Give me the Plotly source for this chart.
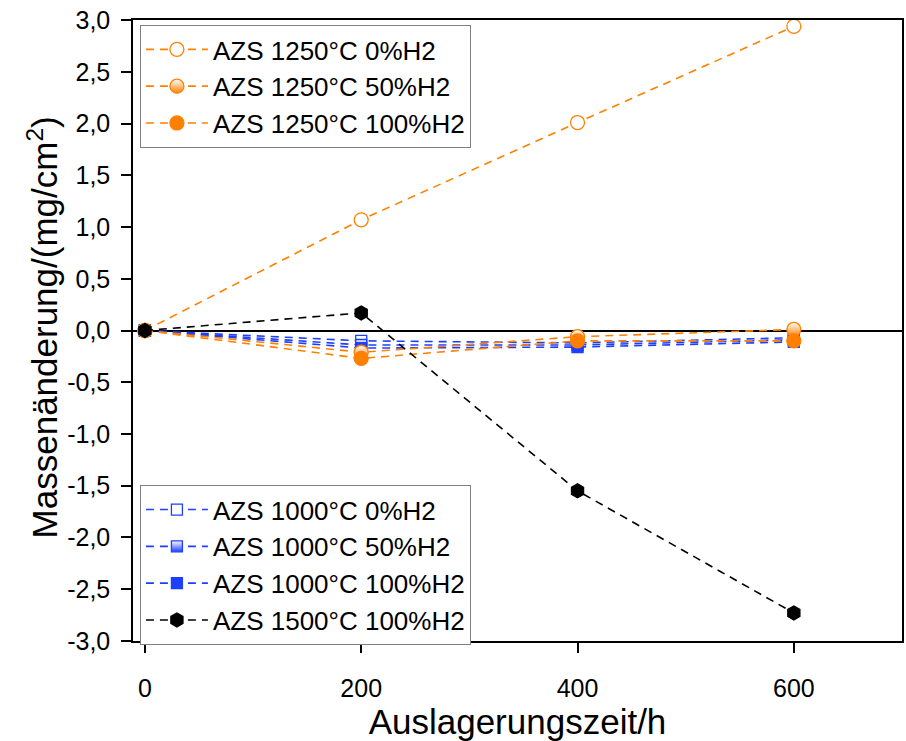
import plotly.graph_objects as go

hours = [0, 200, 400, 600]
azs1250_0 = [0, 1.07, 2.01, 2.94]
azs1250_50 = [0, -0.21, -0.06, 0.01]
azs1250_100 = [0, -0.27, -0.10, -0.10]
azs1000_0 = [0, -0.10, -0.12, -0.07]
azs1000_50 = [0, -0.14, -0.14, -0.09]
azs1000_100 = [0, -0.17, -0.16, -0.11]
azs1500_100 = [0, 0.17, -1.55, -2.73]
y_ticks = [-3.0, -2.5, -2.0, -1.5, -1.0, -0.5, 0.0, 0.5, 1.0, 1.5, 2.0, 2.5, 3.0]
y_tick_labels = ["-3,0", "-2,5", "-2,0", "-1,5", "-1,0", "-0,5", "0,0",
                 "0,5", "1,0", "1,5", "2,0", "2,5", "3,0"]
x_ticks = [0, 200, 400, 600]

ORANGE = "#FF8000"
BLUE = "#1F3FFF"
BLACK = "#000000"

FONT = "Liberation Sans, Arial, sans-serif"

fig = go.Figure()

def add(name, y, color, symbol, size, fill, legend):
    marker = dict(symbol=symbol, size=size, color=color, line=dict(color=color, width=1.3))
    if fill == "open":
        marker["color"] = "white"
    elif fill == "half":
        marker["color"] = "white"
        marker["gradient"] = dict(type="vertical", color=color)
    fig.add_trace(go.Scatter(
        x=hours, y=y, name=name, mode="lines+markers",
        line=dict(color=color, width=1.6, dash="8px,6px"),
        marker=marker, legend=legend,
    ))

add("AZS 1000°C 0%H2", azs1000_0, BLUE, "square", 11, "open", "legend2")
add("AZS 1000°C 50%H2", azs1000_50, BLUE, "square", 11, "half", "legend2")
add("AZS 1000°C 100%H2", azs1000_100, BLUE, "square", 11, "full", "legend2")
add("AZS 1250°C 0%H2", azs1250_0, ORANGE, "circle", 14, "open", "legend")
add("AZS 1250°C 50%H2", azs1250_50, ORANGE, "circle", 14, "half", "legend")
add("AZS 1250°C 100%H2", azs1250_100, ORANGE, "circle", 14, "full", "legend")
add("AZS 1500°C 100%H2", azs1500_100, BLACK, "hexagon", 14, "full", "legend2")

legend_style = dict(
    bgcolor="white", bordercolor="#808080", borderwidth=1,
    font=dict(family=FONT, size=26, color="black"),
    xanchor="left", yanchor="top", tracegroupgap=0, itemwidth=62,
)

fig.update_layout(
    width=906, height=741,
    paper_bgcolor="white", plot_bgcolor="white",
    margin=dict(l=133, r=4, t=20, b=100, autoexpand=False),
    separators=",.",
    font=dict(family=FONT, color="black"),
    showlegend=True,
    legend=dict(x=0.009, y=0.992, traceorder="normal", **legend_style),
    legend2=dict(x=0.009, y=0.251, traceorder="normal", **legend_style),
    xaxis=dict(
        range=[-11, 700], tickvals=x_ticks,
        showline=True, linecolor="black", linewidth=1.5, mirror=True,
        ticks="outside", ticklen=10, tickwidth=1.5, tickcolor="black",
        showgrid=False, zeroline=False, automargin=True,
        tickfont=dict(family=FONT, size=25), ticklabelstandoff=14,
        ticklabeloverflow="allow",
        title=dict(text="Auslagerungszeit/h", font=dict(family=FONT, size=35), standoff=10),
    ),
    yaxis=dict(
        range=[-3.001, 3.001], tickvals=y_ticks, ticktext=y_tick_labels,
        showline=True, linecolor="black", linewidth=1.5, mirror=True,
        ticks="outside", ticklen=10, tickwidth=1.5, tickcolor="black",
        showgrid=False, zeroline=True, zerolinecolor="black", zerolinewidth=1.5,
        automargin=False, ticklabeloverflow="allow",
        tickfont=dict(family=FONT, size=25), ticklabelstandoff=6,
    ),
    annotations=[dict(
        text="Massenänderung/(mg/cm<sup>2</sup>)", textangle=-90,
        xref="paper", yref="paper", x=-0.117, y=0.505,
        xanchor="center", yanchor="middle", showarrow=False,
        font=dict(family=FONT, size=35, color="black"),
    )],
)

fig.write_html("out.html", config={"displayModeBar": False},
               post_script="document.body.style.margin='0';")
